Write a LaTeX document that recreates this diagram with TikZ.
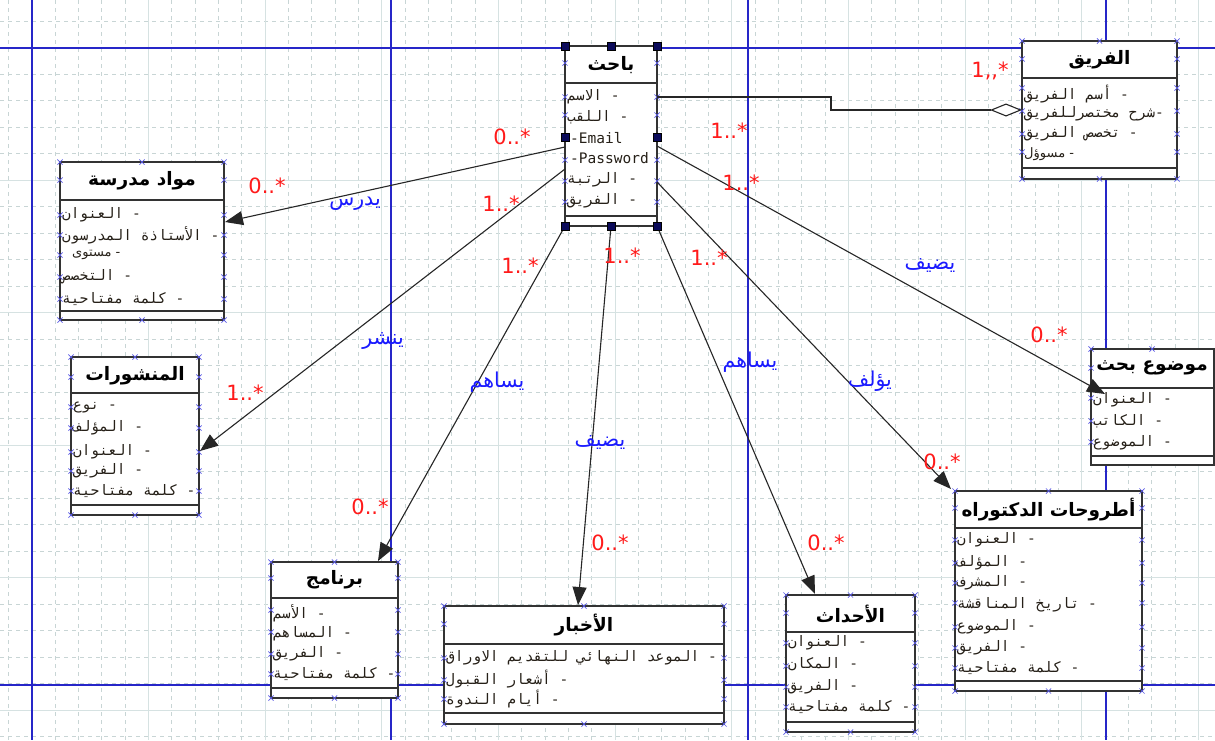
\documentclass[tikz,border=0pt]{standalone}
\usepackage{fontspec}
\usetikzlibrary{arrows.meta}
\TeXXeTstate=1
\setmainfont{DejaVu Sans}
\newfontfamily\armono[Script=Arabic]{DejaVu Sans Mono}
\newfontfamily\arsans[Script=Arabic]{DejaVu Sans}
\newfontfamily\lamono{DejaVu Sans Mono}
\newfontfamily\latsans{DejaVu Sans}
\newcommand\arx[1]{\beginR #1\endR}

\definecolor{gridminorc}{HTML}{C8D5D5}
\definecolor{gridmajorc}{HTML}{D6E2E2}
\definecolor{pageblue}{HTML}{2626C8}
\definecolor{boxline}{HTML}{333333}
\definecolor{xmarkc}{HTML}{5A5AE6}
\definecolor{handlec}{HTML}{0A0A5A}
\definecolor{multc}{HTML}{FF1A1A}
\definecolor{rolec}{HTML}{1A1AFF}
\definecolor{attrc}{HTML}{262018}

\tikzset{
  gridminor/.style={draw=gridminorc, line width=0.8pt, dash pattern=on 4pt off 4pt},
  gridmajor/.style={draw=gridmajorc, line width=1pt},
  pageline/.style={draw=pageblue, line width=1.3pt},
  classbox/.style={draw=boxline, line width=1.5pt, fill=white, rectangle,
    inner sep=0pt, outer sep=0pt, anchor=north west},
  sepline/.style={draw=boxline, line width=1.5pt},
  title/.style={font=\arsans\bfseries\fontsize{18.5}{22}\selectfont, inner sep=0pt, text=black},
  attr/.style={anchor=west, inner sep=0pt, text=attrc, font=\armono\fontsize{14.5}{16}\selectfont},
  attrlat/.style={attr, font=\lamono\fontsize{14.5}{16}\selectfont},
  attrsmall/.style={attr, font=\arsans\fontsize{13}{15}\selectfont},
  mult/.style={inner sep=0pt, text=multc, font=\latsans\fontsize{21}{24}\selectfont},
  role/.style={inner sep=0pt, text=rolec, font=\arsans\fontsize{20.5}{24}\selectfont},
  conn/.style={draw=black!85, line width=1.1pt},
  assoc/.style={conn, -{Triangle[length=18pt,width=14pt]}},
  aggr/.style={conn, -{Diamond[length=32pt,width=13pt,fill=white]}},
  xm/.pic={\draw[xmarkc, line width=0.7pt] (-2.6,-2.6) -- (2.6,2.6) (-2.6,2.6) -- (2.6,-2.6);},
  hd/.pic={\draw[fill=handlec, draw=black, line width=0.5pt] (-4,-4) rectangle (4,4);}
}

% crosses along the two side edges (given rows) and on the top and bottom edges
\newcommand\edgemarks[5]{%
  \foreach \yy in {#3,#4,#5} {\pic at (#1,\yy) {xm}; \pic at (#2,\yy) {xm};}
  \pic at ({(#1+#2)/2},#3) {xm};
  \pic at ({(#1+#2)/2},#4) {xm};
}

\begin{document}
\begin{tikzpicture}[x=1pt,y=-1pt]
\useasboundingbox (0,0) rectangle (1215,740);
\fill[white] (0,0) rectangle (1215,740);

% background grid
\foreach \i in {0,...,51} \draw[gridminor] ({8.333+23.333*\i},0) -- ++(0,740);
\foreach \j in {0,...,27} \draw[gridminor] (0,{21+26.5*\j}) -- ++(1215,0);
\foreach \i in {0,...,10} \draw[gridmajor] ({31.667+116.667*\i},0) -- ++(0,740);
\foreach \j in {0,...,5} \draw[gridmajor] (0,{47.5+132.5*\j}) -- ++(1215,0);

% page boundaries
\foreach \px in {32,391,748,1106} \draw[pageline] (\px,0) -- ++(0,740);
\foreach \py in {48,685} \draw[pageline] (0,\py) -- ++(1215,0);

% ---------- class: researcher ----------
\node[classbox, minimum width=92pt, minimum height=180pt] (res) at (565,46) {};
\draw[sepline] (565,83) -- (657,83);
\draw[sepline] (565,216) -- (657,216);
\node[title] (res-t) at (611,65) {\arx{باحث}};
\node[attr] (res-a1) at (567,97) {\arx{الاسم} -};
\node[attr] (res-a2) at (567,117) {\arx{اللقب} -};
\node[attrlat] (res-a3) at (570,138) {-Email};
\node[attrlat] (res-a4) at (570,158) {-Password};
\node[attr] (res-a5) at (567,180) {\arx{الرتبة} -};
\node[attr] (res-a6) at (567,201) {\arx{الفريق} -};
\foreach \yy in {63,97,115,160,181,202} {\pic at (565,\yy) {xm}; \pic at (657,\yy) {xm};}

% ---------- class: team ----------
\node[classbox, minimum width=155pt, minimum height=138pt] (team) at (1022,41) {};
\draw[sepline] (1022,78) -- (1177,78);
\draw[sepline] (1022,168) -- (1177,168);
\node[title] (team-t) at (1099.5,60) {\arx{الفريق}};
\node[attr] (team-a1) at (1024,94) {\arx{أسم الفريق} -};
\node[attr] (team-a2) at (1024,114) {\arx{شرح مختصرللفريق}-};
\node[attr] (team-a3) at (1024,134) {\arx{تخصص الفريق} -};
\node[attrsmall] (team-a4) at (1024,154) {\arx{مسوؤل} -};
\edgemarks{1022}{1177}{41}{179}{59,88,111,134,152}

% ---------- class: course material ----------
\node[classbox, minimum width=164pt, minimum height=158pt] (mat) at (60,162) {};
\draw[sepline] (60,200) -- (224,200);
\draw[sepline] (60,311) -- (224,311);
\node[title] (mat-t) at (142,181) {\arx{مواد مدرسة}};
\node[attr] (mat-a1) at (62,215) {\arx{العنوان} -};
\node[attr] (mat-a2) at (62,235) {\arx{الأستاذة المدرسون} -};
\node[attrsmall] (mat-a3) at (72,255) {\arx{مستوى} -};
\node[attr] (mat-a4) at (62,277) {\arx{التخصص} -};
\node[attr] (mat-a5) at (62,299) {\arx{كلمة مفتاحية} -};
\edgemarks{60}{224}{162}{320}{180,215,235,255,277,299}

% ---------- class: publications ----------
\node[classbox, minimum width=128pt, minimum height=158pt] (pub) at (71,357) {};
\draw[sepline] (71,393) -- (199,393);
\draw[sepline] (71,505) -- (199,505);
\node[title] (pub-t) at (135,376) {\arx{المنشورات}};
\node[attr] (pub-a1) at (73,407) {\arx{نوع} -};
\node[attr] (pub-a2) at (73,428) {\arx{المؤلف} -};
\node[attr] (pub-a3) at (73,452) {\arx{العنوان} -};
\node[attr] (pub-a4) at (73,471) {\arx{الفريق} -};
\node[attr] (pub-a5) at (73,491) {\arx{كلمة مفتاحية} -};
\edgemarks{71}{199}{357}{515}{377,407,428,452,471,491}

% ---------- class: programme ----------
\node[classbox, minimum width=127pt, minimum height=136pt] (prog) at (271,562) {};
\draw[sepline] (271,598) -- (398,598);
\draw[sepline] (271,688) -- (398,688);
\node[title] (prog-t) at (334.5,580) {\arx{برنامج}};
\node[attr] (prog-a1) at (273,613) {\arx{الأسم} -};
\node[attr] (prog-a2) at (273,634) {\arx{المساهم} -};
\node[attr] (prog-a3) at (273,654) {\arx{الفريق} -};
\node[attr] (prog-a4) at (273,674) {\arx{كلمة مفتاحية} -};
\edgemarks{271}{398}{562}{698}{578,610,632,654,674}

% ---------- class: news ----------
\node[classbox, minimum width=280pt, minimum height=118pt] (news) at (444,606) {};
\draw[sepline] (444,644) -- (724,644);
\draw[sepline] (444,713) -- (724,713);
\node[title] (news-t) at (584,625) {\arx{الأخبار}};
\node[attr] (news-a1) at (446,658) {\arx{الموعد النهائي للتقديم الاوراق} -};
\node[attr] (news-a2) at (446,679) {\arx{أشعار القبول} -};
\node[attr] (news-a3) at (446,699) {\arx{أيام الندوة} -};
\edgemarks{444}{724}{606}{724}{624,658,680,699}

% ---------- class: events ----------
\node[classbox, minimum width=129pt, minimum height=137pt] (evt) at (786,595) {};
\draw[sepline] (786,632) -- (915,632);
\draw[sepline] (786,722) -- (915,722);
\node[title] (evt-t) at (850.5,613.5) {\arx{الأحداث}};
\node[attr] (evt-a1) at (788,643) {\arx{العنوان} -};
\node[attr] (evt-a2) at (788,664) {\arx{المكان} -};
\node[attr] (evt-a3) at (788,687) {\arx{الفريق} -};
\node[attr] (evt-a4) at (788,707) {\arx{كلمة مفتاحية} -};
\edgemarks{786}{915}{595}{732}{613,643,666,687,707}

% ---------- class: doctoral theses ----------
\node[classbox, minimum width=187pt, minimum height=200pt] (thes) at (955,491) {};
\draw[sepline] (955,528) -- (1142,528);
\draw[sepline] (955,681) -- (1142,681);
\node[title] (thes-t) at (1048.5,509.5) {\arx{أطروحات الدكتوراه}};
\node[attr] (thes-a1) at (957,540) {\arx{العنوان} -};
\node[attr] (thes-a2) at (957,563) {\arx{المؤلف} -};
\node[attr] (thes-a3) at (957,583) {\arx{المشرف} -};
\node[attr] (thes-a4) at (957,605) {\arx{تاريخ المناقشة} -};
\node[attr] (thes-a5) at (957,627) {\arx{الموضوع} -};
\node[attr] (thes-a6) at (957,648) {\arx{الفريق} -};
\node[attr] (thes-a7) at (957,668) {\arx{كلمة مفتاحية} -};
\edgemarks{955}{1142}{491}{691}{508,540,563,583,603,627,648,668}

% ---------- class: research topic ----------
\node[classbox, minimum width=123pt, minimum height=116pt] (topic) at (1091,349) {};
\draw[sepline] (1091,388) -- (1214,388);
\draw[sepline] (1091,456) -- (1214,456);
\node[title] (topic-t) at (1152,368) {\arx{موضوع بحث}};
\node[attr] (topic-a1) at (1093,400) {\arx{العنوان} -};
\node[attr] (topic-a2) at (1093,421) {\arx{الكاتب} -};
\node[attr] (topic-a3) at (1093,443) {\arx{الموضوع} -};
\foreach \yy in {349,368,398,421,442} \pic at (1091,\yy) {xm};
\pic at (1152,349) {xm};

% ---------- attachment points ----------
\coordinate (res-r1) at (657,97);
\coordinate (res-r2) at (657,146);
\coordinate (res-r3) at (657,182);
\coordinate (res-l1) at (565,147);
\coordinate (res-l2) at (565,169);
\coordinate (bend1) at (831,97);
\coordinate (bend2) at (831,110);
\coordinate (team-in) at (1022,110);
\coordinate (mat-in) at (225,222);
\coordinate (pub-in) at (200,451);
\coordinate (prog-in) at (378,561);
\coordinate (news-in) at (578,605);
\coordinate (evt-in) at (815,594);
\coordinate (thes-in) at (951,489);
\coordinate (topic-in) at (1105,394);

% ---------- connectors ----------
\draw[aggr] (res-r1) -- (bend1) -- (bend2) -- (team-in);
\draw[assoc] (res-l1) -- (mat-in);
\draw[assoc] (res-l2) -- (pub-in);
\draw[assoc] (res.south west) -- (prog-in);
\draw[assoc] (res.south) -- (news-in);
\draw[assoc] (res.south east) -- (evt-in);
\draw[assoc] (res-r3) -- (thes-in);
\draw[assoc] (res-r2) -- (topic-in);

% selection handles of the researcher class
\foreach \hx/\hy in {565/46,611/46,657/46,565/137,657/137,565/226,611/226,657/226}
  \pic at (\hx,\hy) {hd};

% ---------- multiplicities ----------
\node[mult] (m1) at (990,71) {1,,*};
\node[mult] (m2) at (512,137) {0..*};
\node[mult] (m3) at (729,131) {1..*};
\node[mult] (m4) at (741,183) {1..*};
\node[mult] (m5) at (267,186) {0..*};
\node[mult] (m6) at (501,204) {1..*};
\node[mult] (m7) at (520,266) {1..*};
\node[mult] (m8) at (622,256) {1..*};
\node[mult] (m9) at (709,258) {1..*};
\node[mult] (m10) at (1049,335) {0..*};
\node[mult] (m11) at (245,393) {1..*};
\node[mult] (m12) at (942,462) {0..*};
\node[mult] (m13) at (370,507) {0..*};
\node[mult] (m14) at (610,543) {0..*};
\node[mult] (m15) at (826,543) {0..*};

% ---------- association names ----------
\node[role] (r1) at (355,204) {\arx{يدرس}};
\node[role] (r2) at (383,341) {\arx{ينشر}};
\node[role] (r3) at (497,382) {\arx{يساهم}};
\node[role] (r4) at (600,442) {\arx{يضيف}};
\node[role] (r5) at (750,362) {\arx{يساهم}};
\node[role] (r6) at (870,381) {\arx{يؤلف}};
\node[role] (r7) at (930,265) {\arx{يضيف}};
\end{tikzpicture}
\end{document}
